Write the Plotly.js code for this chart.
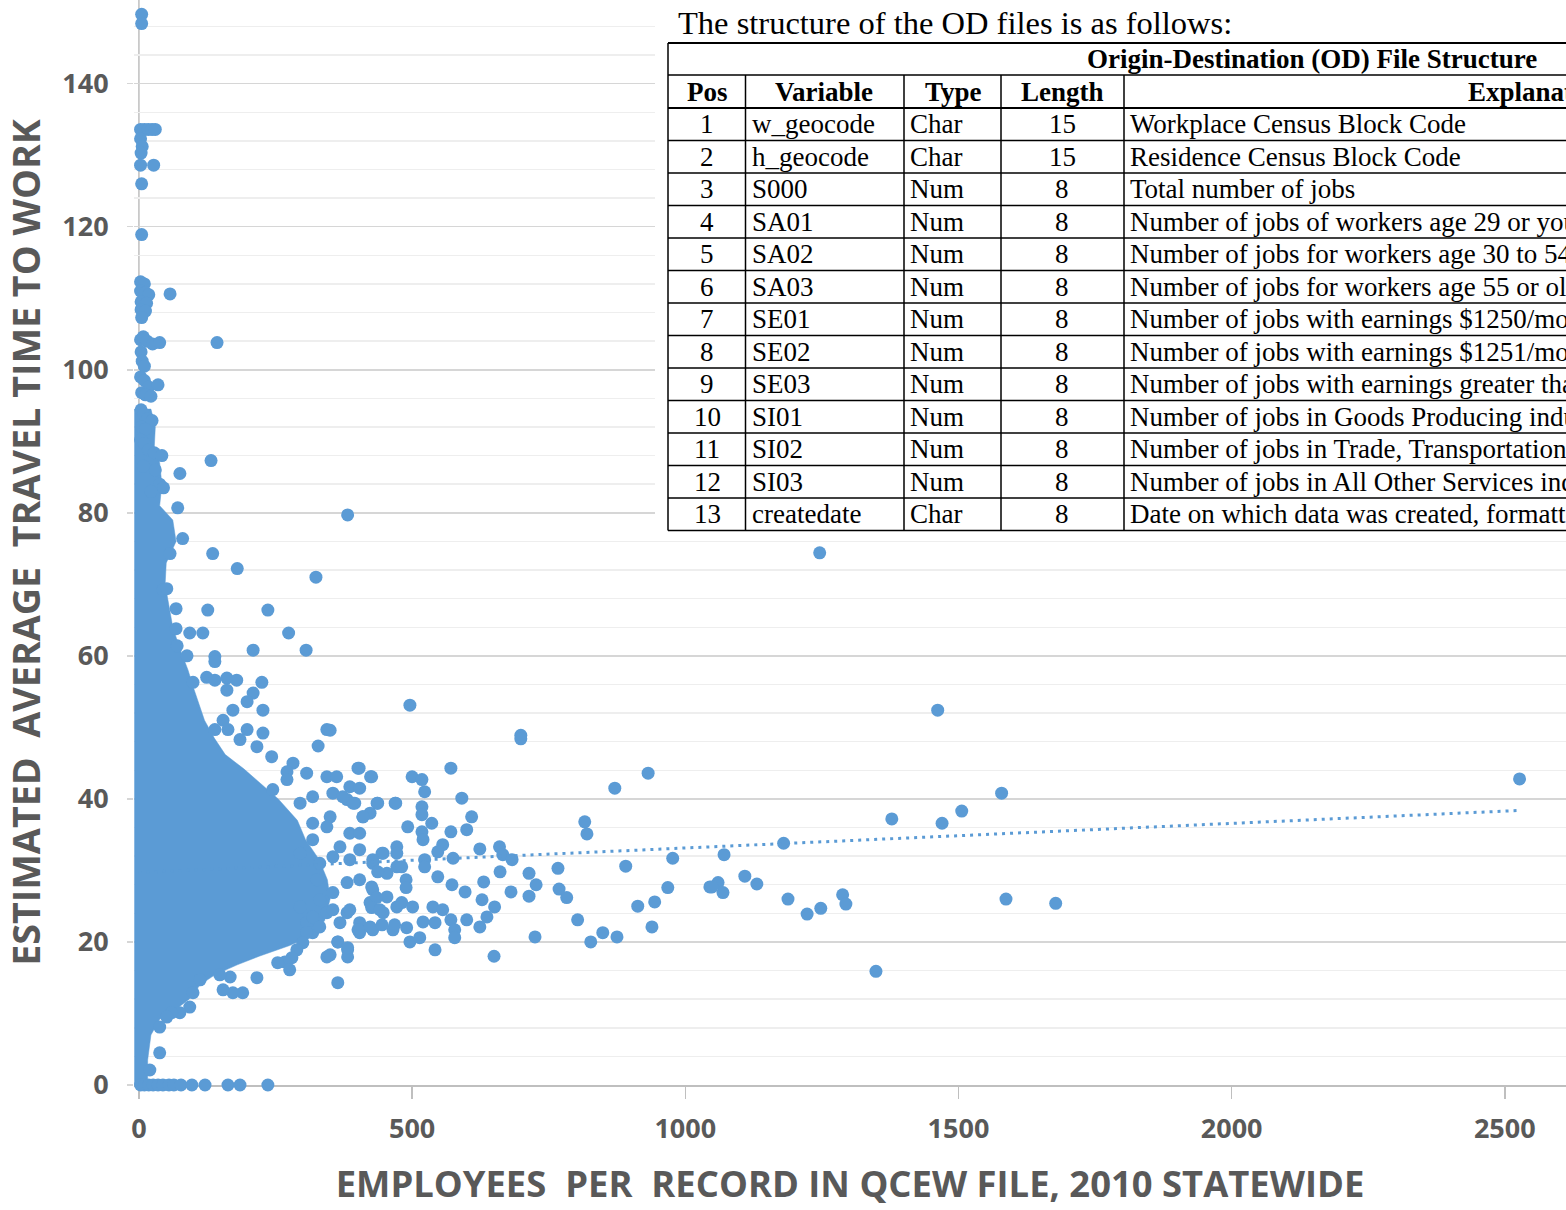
<!DOCTYPE html>
<html>
<head>
<meta charset="utf-8">
<script src="https://cdn.plot.ly/plotly-3.0.1.min.js"></script>
<style>
html,body{margin:0;padding:0;background:#fff;overflow:hidden;}
#chart{width:1566px;height:1210px;}
</style>
</head>
<body>
<div id="chart"></div>
<script>
// ---------------- DATA ----------------
// Dense core of the point cloud (outline)
const cloudCoreX = [-8,-8,22,30,28,38,42,38,62,68,50,48,55,62,75,90,100,120,138,158,192,225,255,290,305,330,345,350,340,320,276,220,180,139,112,92,66,38,22,16,16];
const cloudCoreY = [0,94.5,94.5,92,89,87,84,81,79,76,73,70,67,64,61,58,55.5,51,48.5,46.2,44.2,42,40,37,34.3,31.5,28.7,26,23,21,19.5,18,16.8,15.4,14,12,10.5,9.2,7,3.5,0];

// Individual points: near-axis column (high travel times)
const columnPts = [[5,149.7],[5,148.4],[3,133.6],[10,133.6],[17,133.6],[24,133.6],[30,133.6],[3,132.3],[6,131.2],[4,130.3],[3,128.6],[27,128.6],[5,126],[5,118.9],
[3,112.3],[10,112],[3,111],[12,110.8],[18,110.5],[4,109.5],[14,109.3],[4,108.4],[12,108.2],[5,107.3],[57,110.6],
[3,104.2],[8,104.6],[15,104],[25,103.6],[38,103.8],[143,103.8],[4,102.5],[6,101.2],[10,100.5],
[3,99],[10,98.5],[18,97.6],[35,97.9],[5,96.8],[12,96.5],[22,96.3],
[4,94.4],[9,93.8],[16,93.2],[24,92.9],[5,92],[12,91.7],
[3,90.2],[10,89.7],[18,88.8],[28,88.4],[42,88],[132,87.3],[75,85.5],[8,86.5],[30,86],[38,84],[22,83],[45,83.5],
[71,80.7],[80,76.4],[57,74.3],[135,74.3],[180,72.2],[44,69.2],[382,79.7],[324,71.0],
[51,69.4],[68,66.6],[126,66.4],[236,66.4],[68,63.8],[93,63.2],[117,63.2],[274,63.2],[139,59.9],[139,59.2],[209,60.8],[306,60.8],[88,60],[70,61.4]];

// Edge of the dense cloud
const edgePts = [[99,56.3],[124,57],[139,56.6],[161,56.9],[179,56.6],[225,56.3],[161,55.2],[209,54.8],[198,53.6],[172,52.4],[227,52.4],[154,51],[139,49.7],[163,49.7],[198,49.7],[227,49.2],[344,49.7],[328,47.4],[185,48.3],[216,47.3],[243,45.9],[282,45],[307,43.6],[271,43.8],[344,43.1],[362,43.1],[401,44.3],[426,43.1],[386,41.7],[404,41.5],[436,39.4],[469,39.4],[355,40.8],[381,39.9],[395,39.4],[318,40.3],[295,39.4],[245,41.3],[271,42.7],[350,37.5],[318,36.6],[344,36.1],[410,37.5],[423,38],[386,35.2],[404,32.9],[447,32.4],[472,33.3],[368,33.3],[355,31.9],[386,31.5],[428,31],[454,29.6],[472,30.5],[318,34.3],[295,32.4],[331,31],[326,28.7],[355,26.9],[331,25.9],[381,28.3],[404,28.7],[428,27.3],[423,25.5],[454,26.3],[472,24.9],[447,24.1],[381,24.1],[404,22.7],[368,22.7],[344,24.1],[307,22.7],[318,21.3],[404,21.3],[428,21.7],[465,21.7],
[295,24.9],[318,23.5],[307,21.3],[331,22.1],[355,24.5],[364,20],[382,18.9],[382,17.9],[344,17.9],[364,14.3],[300,19.9],[289,18.9],[280,17.8],[267,17.2],[254,17.1],[276,16.1],[216,15],[190,12.9],[172,12.9],[154,13.3],[167,15.1],[148,15.4],[112,14.7],[99,12.9],[93,10.9],[75,10.1],[60,10.1],[51,9.5],[38,8.1],[38,4.5],[20,2.1]];

// Zero travel-time records
const zeroPts = [[3,0],[10,0],[18,0],[26,0],[35,0],[44,0],[55,0],[64,0],[77,0],[97,0],[121,0],[163,0],[185,0],[236,0]];

// Scattered mid-range records
const midPts = [[496,53.1],[350,49.6],[699,48.9],[699,48.4],[403,44.3],[424,43.1],[571,44.3],[932,43.6],[871,41.5],[500,43.1],[518,42.7],[523,41.0],[591,40.1],[437,39.4],[470,39.4],[392,39.4],[373,40.3],[518,38.9],[518,37.8],[609,37.5],[600,35.7],[571,35.4],[536,36.6],[816,36.8],[820,35.1],[492,36.1],[518,35.4],[520,34.3],[410,37.5],[404,35.2],[556,33.6],[624,33.0],[660,33.3],[666,32.2],[683,31.5],[575,31.7],[523,31.5],[523,30.5],[547,32.6],[445,32.4],[428,31.5],[437,29.8],[472,32.4],[481,30.5],[489,28.7],[489,27.6],[547,29.1],[631,28.4],[661,29.8],[714,29.6],[727,28.0],[714,26.4],[767,30.3],[891,30.6],[977,31.7],[1071,32.2],[681,27.0],[769,27.4],[783,26.2],[573,28.0],[597,27.0],[426,27.7],[435,26.2],[386,24.5],[426,24.8],[441,24.5],[481,25.5],[501,24.9],[538,24.9],[556,24.5],[628,25.9],[651,24.9],[637,23.5],[571,23.1],[578,21.7],[600,23.1],[520,22.8],[624,22.1],[542,22.7],[468,22.4],[490,22.0],[401,21.7],[423,22.1],[445,22.4],[496,20.0],[514,20.6],[578,20.6],[725,20.7],[803,23.1],[827,20.0],[849,21.3],[875,20.7],[939,22.1],[913,25.0],[944,25.6],[968,27.6],[1045,27.7],[1060,28.3],[1069,26.9],[364,20.0],[382,19.2],[542,18.9],[650,18.0],[350,18.2]];

// Large establishments
const farPts = [[1579,40.8],[1506,38.3],[1470,36.6],[1378,37.2],[1180,33.8],[1109,29.2],[1131,28.1],[1049,27.7],[1188,26.0],[1223,23.9],[1248,24.7],[1288,26.6],[1294,25.3],[1349,15.9],[1587,26.0],[1678,25.4],[1462,52.4],[1246,74.4],[2527,42.8]];

// Linear trend line end points
const trendX = [0, 2530];
const trendY = [29.7, 38.4];

// Axis ticks
const xTicks = [0, 500, 1000, 1500, 2000, 2500];
const yTicks = [0, 20, 40, 60, 80, 100, 120, 140];

// Table (overlay)
const tableIntro = "The structure of the OD files is as follows:";
const tableCaption = "Origin-Destination (OD) File Structure";
const tableHeaders = ["Pos", "Variable", "Type", "Length", "Explanation"];
const tablePos = ["1","2","3","4","5","6","7","8","9","10","11","12","13"];
const tableVar = ["w_geocode","h_geocode","S000","SA01","SA02","SA03","SE01","SE02","SE03","SI01","SI02","SI03","createdate"];
const tableType = ["Char","Char","Num","Num","Num","Num","Num","Num","Num","Num","Num","Num","Char"];
const tableLen = ["15","15","8","8","8","8","8","8","8","8","8","8","8"];
const tableExpl = ["Workplace Census Block Code","Residence Census Block Code","Total number of jobs",
 "Number of jobs of workers age 29 or younger","Number of jobs for workers age 30 to 54",
 "Number of jobs for workers age 55 or older","Number of jobs with earnings $1250/month or less",
 "Number of jobs with earnings $1251/month to $3333/month","Number of jobs with earnings greater than $3333/month",
 "Number of jobs in Goods Producing industry sectors","Number of jobs in Trade, Transportation, and Utilities industry sectors",
 "Number of jobs in All Other Services industry sectors","Date on which data was created, formatted as YYYYMMDD"];

// ---------------- BUILD ----------------
const BLUE = "#5B9BD5";
const allPts = columnPts.concat(edgePts, zeroPts, midPts, farPts);

const traces = [
  {type:"scatter", mode:"lines", x:cloudCoreX, y:cloudCoreY, fill:"toself",
   fillcolor:BLUE, line:{color:BLUE, width:0.5}, hoverinfo:"skip", showlegend:false},
  {type:"scatter", mode:"markers", x:allPts.map(p=>p[0]), y:allPts.map(p=>p[1]),
   marker:{color:BLUE, size:13, line:{width:0}}, cliponaxis:false, showlegend:false},
  {type:"scatter", mode:"lines", x:trendX, y:trendY,
   line:{color:BLUE, width:3, dash:"3px,5px"}, hoverinfo:"skip", showlegend:false}
];

// pixel -> paper helpers for the overlay
const L = 134, W = 1432, B = 1085, H = 1085;
const PX = px => (px - L) / W;
const PY = py => (B - py) / H;

const shapes = [
  {type:"line", xref:"x", yref:"paper", x0:0, x1:0, y0:0, y1:1, line:{color:"#bfbfbf", width:1.5}, layer:"below"},
  {type:"rect", xref:"paper", yref:"paper", x0:PX(655), x1:PX(1580), y0:PY(533), y1:PY(-5), fillcolor:"#ffffff", line:{width:0}, layer:"above"}
];
const tl = {color:"#000000", width:1.5};
function hline(py, x0, x1, w){ shapes.push({type:"line", xref:"paper", yref:"paper", x0:PX(x0), x1:PX(x1), y0:PY(py), y1:PY(py), line:{color:"#000", width:w||1.5}, layer:"above"}); }
function vline(px, y0, y1){ shapes.push({type:"line", xref:"paper", yref:"paper", x0:PX(px), x1:PX(px), y0:PY(y0), y1:PY(y1), line:tl, layer:"above"}); }

const rowTop = 108, rowH = 32.5;
hline(43, 668, 1580, 2);
hline(75, 668, 1580, 1.5);
hline(rowTop, 668, 1580, 2);
for (let i = 1; i <= tablePos.length; i++) hline(rowTop + i*rowH, 668, 1580, 1.5);
const tableBottom = rowTop + tablePos.length*rowH;
vline(668, 43, tableBottom);
[745.5, 904, 1001, 1124].forEach(px => vline(px, 75, tableBottom));

const serif = "Liberation Serif, Times New Roman, serif";
const annotations = [];
function txt(text, px, py, anchor, size, bold){
  annotations.push({text: bold ? "<b>"+text+"</b>" : text, xref:"paper", yref:"paper",
    x:PX(px), y:PY(py), xanchor:anchor, yanchor:"middle", showarrow:false,
    font:{family:serif, size:size, color:"#000"}});
}
txt(tableIntro, 676, 23, "left", 32.5, false);
txt(tableCaption, 1085, 59, "left", 27, true);
const hdrX = [707, 824, 953, 1062, 1466];
const hdrA = ["center","center","center","center","left"];
tableHeaders.forEach((h,i)=>txt(h, hdrX[i], 92, hdrA[i], 27, true));
for (let i = 0; i < tablePos.length; i++){
  const cy = rowTop + rowH*(i+0.5);
  txt(tablePos[i], 707, cy, "center", 27);
  txt(tableVar[i], 750, cy, "left", 27);
  txt(tableType[i], 908, cy, "left", 27);
  txt(tableLen[i], 1062, cy, "center", 27);
  txt(tableExpl[i], 1128, cy, "left", 27);
}

const axFont = {family:"Open Sans, sans-serif", size:27, color:"#595959", weight:700};
const layout = {
  width:1566, height:1210,
  margin:{l:L, r:0, t:0, b:125, pad:0},
  paper_bgcolor:"#fff", plot_bgcolor:"#fff",
  showlegend:false,
  xaxis:{range:[-9, 2612], tickvals:xTicks, ticktext:xTicks.map(String),
    showgrid:false, zeroline:false, showline:true, linecolor:"#bfbfbf", linewidth:1.5,
    ticks:"outside", ticklen:12, tickcolor:"#bfbfbf", tickwidth:1.5, ticklabelstandoff:7,
    tickfont:axFont, layer:"below traces",
    title:{text:"EMPLOYEES&nbsp; PER&nbsp; RECORD IN QCEW FILE, 2010 STATEWIDE", standoff:26,
      font:{family:"Open Sans, sans-serif", size:36.4, color:"#595959", weight:700}}},
  yaxis:{range:[0, 151.7], tickvals:yTicks, ticktext:yTicks.map(String),
    showgrid:true, gridcolor:"#d6d6d6", gridwidth:1.5, zeroline:false, showline:false,
    minor:{dtick:4, showgrid:true, gridcolor:"#eeeeee", gridwidth:1.5, ticks:""},
    ticks:"outside", ticklen:6, tickcolor:"#d6d6d6", tickwidth:1.5, ticklabelstandoff:13,
    tickfont:axFont, layer:"below traces",
    title:{text:"ESTIMATED&nbsp; AVERAGE&nbsp; TRAVEL TIME TO WORK", standoff:14,
      font:{family:"Open Sans, sans-serif", size:37.7, color:"#595959", weight:700}}},
  shapes:shapes,
  annotations:annotations
};

Plotly.newPlot("chart", traces, layout, {displayModeBar:false, staticPlot:true});
</script>
</body>
</html>
